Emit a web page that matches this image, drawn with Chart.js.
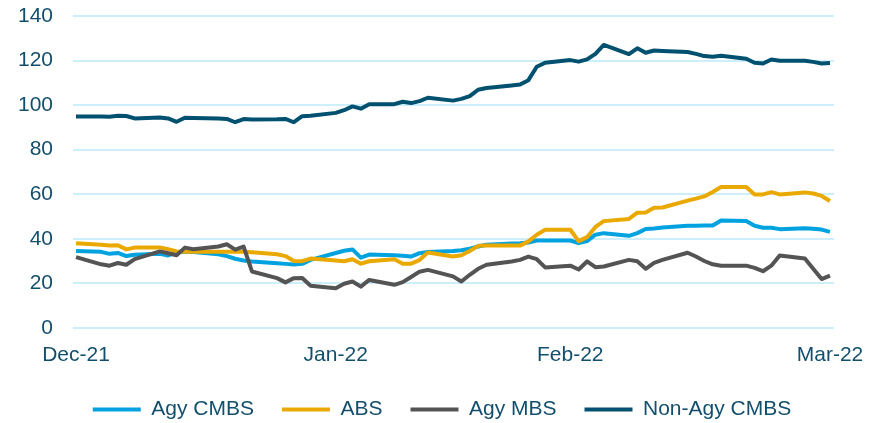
<!DOCTYPE html>
<html>
<head>
<meta charset="utf-8">
<script src="https://cdn.jsdelivr.net/npm/chart.js@4/dist/chart.umd.min.js"></script>
<style>
  html, body { margin: 0; padding: 0; background: #fff; }
  #wrap { width: 884px; height: 423px; }
</style>
</head>
<body>
<div id="wrap"><canvas id="spreadChart"></canvas></div>
<script>
// Spread history, Dec-21 to Mar-22 (x = days after 1 Dec 2021)
const days = [0,
  3, 4, 5, 6, 7,   10, 11, 12, 13, 14,   17, 18, 19, 20, 21,
  24, 25, 26, 27, 28,   31, 32, 33, 34, 35,   38, 39, 40, 41, 42,
  45, 46, 47, 48, 49,   52, 53, 54, 55, 56,   59, 60, 61, 62, 63,
  66, 67, 68, 69, 70,   73, 74, 75, 76, 77,   80, 81, 82, 83, 84,
  87, 88, 89, 90];

const agyCmbs = [34.5,
  34.1, 33.2, 33.6, 32.2, 32.8,   33.2, 32.5, 34.0, 34.2, 34.0,   33.0, 32.2, 31.0, 30.2, 29.8,
  29.0, 28.7, 28.4, 28.7, 30.5,   33.6, 34.6, 35.2, 31.5, 32.9,   32.6, 32.4, 32.0, 33.5, 34.0,
  34.5, 34.8, 35.5, 36.5, 37.3,   37.8, 38.0, 38.3, 39.2, 39.2,   39.2, 38.0, 38.9, 41.8, 42.5,
  41.3, 42.5, 44.4, 44.6, 45.0,   45.8, 45.8, 45.9, 45.9, 48.2,   47.9, 45.8, 44.9, 44.9, 44.3,
  44.7, 44.5, 44.1, 43.1];

const abs = [38.0,
  37.3, 37.0, 37.1, 35.2, 36.0,   36.1, 35.3, 34.3, 34.2, 34.2,   34.2, 34.2, 34.2, 34.1, 33.9,
  33.0, 32.2, 30.0, 29.9, 31.1,   30.2, 29.9, 30.8, 28.8, 29.9,   30.8, 28.8, 28.8, 30.4, 33.8,
  32.0, 32.6, 34.5, 36.8, 36.9,   36.9, 36.9, 38.8, 41.8, 44.0,   44.0, 38.9, 40.7, 45.3, 47.9,
  48.9, 51.7, 51.8, 53.9, 54.0,   57.1, 58.0, 59.0, 61.0, 63.2,   63.2, 59.9, 59.9, 60.9, 59.9,
  60.8, 60.3, 59.2, 56.9];

const agyMbs = [31.7,
  28.5, 27.9, 29.1, 28.3, 30.8,   34.3, 33.5, 32.6, 36.0, 35.3,   36.5, 37.5, 35.1, 36.5, 25.3,
  22.3, 20.4, 22.3, 22.4, 18.9,   17.8, 19.8, 20.8, 18.5, 21.5,   19.3, 20.5, 22.8, 25.2, 26.0,
  23.1, 20.8, 23.8, 26.5, 28.3,   29.8, 30.5, 32.0, 30.8, 27.1,   27.9, 26.2, 29.8, 27.2, 27.5,
  30.5, 29.9, 26.5, 29.2, 30.5,   33.7, 32.0, 30.0, 28.5, 27.9,   27.9, 26.9, 25.4, 27.9, 32.5,
  31.1, 26.5, 21.9, 23.4];

const nonAgyCmbs = [94.9,
  94.9, 94.8, 95.2, 95.1, 94.0,   94.4, 94.0, 92.5, 94.3, 94.2,   94.0, 93.8, 92.3, 93.7, 93.5,
  93.6, 93.8, 92.3, 95.0, 95.2,   96.5, 97.7, 99.4, 98.4, 100.4,  100.4, 101.5, 100.9, 101.8, 103.3,
  102.0, 102.8, 104.0, 106.9, 107.7,   108.8, 109.2, 111.2, 117.2, 119.0,   120.2, 119.5, 120.5, 123.0, 127.0,
  122.9, 125.5, 123.5, 124.5, 124.3,   123.8, 123.0, 122.0, 121.7, 122.2,   120.8, 119.0, 118.7, 120.5, 119.9,
  119.9, 119.4, 118.7, 118.9];

const monthTicks = [0, 31, 59, 90];
const monthLabels = ['Dec-21', 'Jan-22', 'Feb-22', 'Mar-22'];

const seriesNames = ['Agy CMBS', 'ABS', 'Agy MBS', 'Non-Agy CMBS'];
const seriesColors = ['#00a3e0', '#e9a900', '#545454', '#00506f'];

const textColor = '#134f6d';
const gridColor = '#cdeefb';
const fontFamily = 'Liberation Sans, Arial, sans-serif';

function toPoints(values) {
    return values.map((v, i) => ({ x: days[i], y: v }));
}

const allValues = [agyCmbs, abs, agyMbs, nonAgyCmbs];

const ctx = document.getElementById('spreadChart').getContext('2d');
const chart = new Chart(ctx, {
    type: 'line',
    data: {
        datasets: allValues.map((vals, i) => ({
            label: seriesNames[i],
            data: toPoints(vals),
            borderColor: seriesColors[i],
            backgroundColor: seriesColors[i],
            borderWidth: 4,
            pointRadius: 0,
            tension: 0,
            borderJoinStyle: 'round',
            order: 4 - i   // later series drawn on top
        }))
    },
    options: {
        responsive: true,
        maintainAspectRatio: false,
        animation: false,
        layout: { padding: { left: 0, right: 0, top: 16, bottom: -7 } },
        plugins: {
            tooltip: { enabled: false },
            legend: {
                position: 'bottom',
                labels: {
                    usePointStyle: true,
                    pointStyle: 'line',
                    pointStyleWidth: 48,
                    boxHeight: 4,
                    padding: 28,
                    color: textColor,
                    font: { family: fontFamily, size: 21 },
                    sort: (a, b) => a.datasetIndex - b.datasetIndex
                }
            }
        },
        scales: {
            x: {
                type: 'linear',
                min: -0.36,
                max: 90.48,
                grid: { display: false },
                border: { display: false },
                afterBuildTicks: axis => {
                    axis.ticks = monthTicks.map(v => ({ value: v }));
                },
                afterFit: axis => {
                    axis.paddingLeft = 0;
                    axis.paddingRight = 50;
                    axis.height -= 4;
                },
                ticks: {
                    autoSkip: false,
                    maxRotation: 0,
                    padding: 7,
                    color: textColor,
                    font: { family: fontFamily, size: 21 },
                    callback: v => monthLabels[monthTicks.indexOf(v)]
                }
            },
            y: {
                min: 0,
                max: 140,
                afterFit: axis => {
                    axis.width = 73;
                    axis.paddingTop = 0;
                    axis.paddingBottom = 0;
                },
                ticks: {
                    stepSize: 20,
                    padding: 20,
                    color: textColor,
                    font: { family: fontFamily, size: 21 }
                },
                grid: { color: gridColor, lineWidth: 2, drawTicks: false },
                border: { display: false }
            }
        }
    }
});
</script>
</body>
</html>
